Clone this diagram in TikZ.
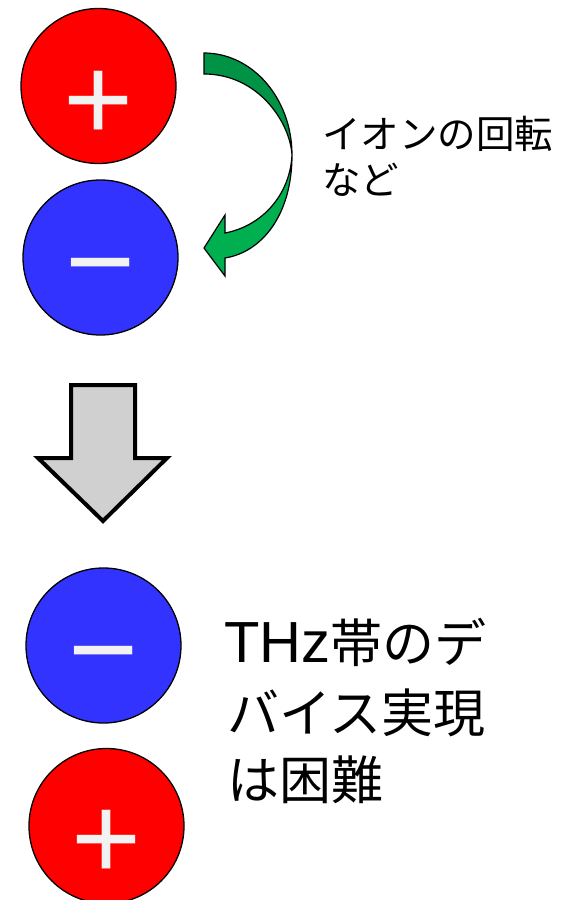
\documentclass[tikz,border=0pt]{standalone}
\usepackage{fontspec}
\newfontfamily\jpfont{Noto Sans CJK JP}
\newfontfamily\signfont{Liberation Sans}
\newfontfamily\latinfont{Liberation Sans}
\definecolor{ionred}{HTML}{FF0000}
\definecolor{ionblue}{HTML}{3333FF}
\definecolor{signgray}{HTML}{F2F2F2}
\definecolor{arrowgray}{HTML}{D0D0D0}
\definecolor{greendark}{HTML}{009245}
\definecolor{greenlight}{HTML}{00B050}
\begin{document}
\begin{tikzpicture}[x=1pt,y=-1pt,
  ionball/.style={circle, draw=black, line width=1.3pt, minimum size=155pt, inner sep=0pt},
  posball/.style={ionball, fill=ionred},
  negball/.style={ionball, fill=ionblue},
  chargesign/.style={inner sep=0pt, anchor=base, text=signgray, font=\signfont\fontsize{120}{120}\selectfont},
  smalltext/.style={inner sep=0pt, anchor=base west, font=\jpfont\fontsize{38.5}{38.5}\selectfont},
  bigtext/.style={inner sep=0pt, anchor=base west, font=\jpfont\fontsize{52}{52}\selectfont},
  outlined/.style={draw=black, line join=miter}
]
\useasboundingbox (0,0) rectangle (560,900);
\fill[white] (0,0) rectangle (560,900);

% top pair
\node[posball] (p1) at (98.5,86) {};
\node[chargesign] (s1) at (98.5,140) {+};
\node[negball] (n1) at (100.5,257.5) {};
\node[chargesign] (s2) at (100.5,302) {−};

% green rotation arrow
\filldraw[outlined, fill=greenlight, line width=1.2pt]
  (292,155) .. controls (292,215) and (262,252) .. (225,258)
  -- (225,276) -- (204,248) -- (225,215) -- (225,233)
  .. controls (262,226) and (290,195) .. (292,155) -- cycle;
\filldraw[outlined, fill=greendark, line width=1.2pt]
  (204,53) .. controls (252.6,53) and (292,98.7) .. (292,155)
  .. controls (290,122) and (258,74) .. (204,74) -- cycle;

\node[smalltext] (l1) at (322,148) {イオンの回転};
\node[smalltext] (l2) at (322,194) {など};

% gray down arrow
\filldraw[outlined, fill=arrowgray, line width=4pt]
  (71,385) -- (135,385) -- (135,458) -- (167,458) -- (103,521)
  -- (38,458) -- (71,458) -- cycle;

% bottom pair
\node[negball] (n2) at (103.5,645.5) {};
\node[chargesign] (s3) at (103.5,690) {−};
\node[posball] (p2) at (106.5,826) {};
\node[chargesign] (s4) at (106.5,879) {+};

\node[bigtext] (t1) at (224,662) {{\latinfont\fontsize{58}{58}\selectfont THz}帯のデ};
\node[bigtext] (t2) at (227,732) {バイス実現};
\node[bigtext] (t3) at (227,799) {は困難};
\end{tikzpicture}
\end{document}
